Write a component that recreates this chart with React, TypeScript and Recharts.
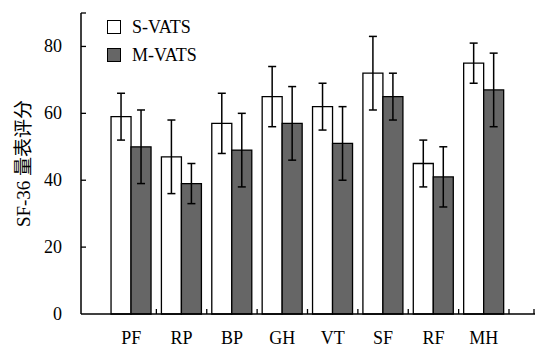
import React from 'react';
import { BarChart, Bar, XAxis, YAxis, ErrorBar, Legend } from 'recharts';

const categories = ['PF', 'RP', 'BP', 'GH', 'VT', 'SF', 'RF', 'MH'];
const sVats = [59, 47, 57, 65, 62, 72, 45, 75];
const sVatsErr = [7, 11, 9, 9, 7, 11, 7, 6];
const mVats = [50, 39, 49, 57, 51, 65, 41, 67];
const mVatsErr = [11, 6, 11, 11, 11, 7, 9, 11];
const yTicks = [0, 20, 40, 60, 80, 90];
const yLabels = ['0', '20', '40', '60', '80', ''];

const data = categories.map((c, i) => ({
  name: c,
  s: sVats[i],
  sErr: sVatsErr[i],
  m: mVats[i],
  mErr: mVatsErr[i],
}));

const FONT = '"Liberation Serif", "Times New Roman", "Noto Sans CJK SC", serif';
const WHITE = '#ffffff';
const DARK = '#666666';

const XTick = (props: any) => {
  const { x, y, payload, index, visibleTicksCount } = props;
  const off = payload && typeof payload.offset === 'number' && payload.offset > 0 ? payload.offset : 25.2;
  const last = index === (visibleTicksCount ?? categories.length) - 1;
  return (
    <g>
      <text x={x} y={y + 30} textAnchor="middle" fontSize={18} fontFamily={FONT} fill="#000">
        {payload.value}
      </text>
      <line x1={x + off} x2={x + off} y1={y} y2={y - 5} stroke="#000" strokeWidth={1.3} />
      {last ? <line x1={x + off + 25} x2={x + off + 25} y1={y} y2={y - 5} stroke="#000" strokeWidth={1.3} /> : null}
    </g>
  );
};

const YTick = (props: any) => {
  const { x, y, payload } = props;
  const idx = yTicks.indexOf(payload.value);
  const label = idx >= 0 ? yLabels[idx] : String(payload.value);
  return (
    <g>
      {payload.value !== 0 ? <line x1={x} x2={x + 5} y1={y} y2={y} stroke="#000" strokeWidth={1.3} /> : null}
      <text x={x - 19} y={y} dy={6} textAnchor="end" fontSize={18} fontFamily={FONT} fill="#000">
        {label}
      </text>
    </g>
  );
};

const LegendContent = () => {
  const items = [
    { label: 'S-VATS', color: WHITE },
    { label: 'M-VATS', color: DARK },
  ];
  return (
    <div style={{ fontFamily: FONT, fontSize: 18, color: '#000' }}>
      {items.map((it) => (
        <div key={it.label} style={{ display: 'flex', alignItems: 'center', height: 28 }}>
          <div
            style={{
              width: 12,
              height: 12,
              background: it.color,
              border: '1px solid #000',
              marginRight: 11,
            }}
          />
          <span style={{ lineHeight: '28px' }}>{it.label}</span>
        </div>
      ))}
    </div>
  );
};

export default function App() {
  return (
    <div style={{ position: 'absolute', left: 0, top: 0, background: '#fff' }}>
      <BarChart
        width={536}
        height={349}
        data={data}
        margin={{ top: 13, right: 1, bottom: 0, left: 0 }}
        barCategoryGap="10%"
        barGap={0}
      >
        <XAxis
          dataKey="name"
          height={35}
          padding={{ left: 25, right: 26 }}
          tickLine={false}
          tickSize={0}
          tickMargin={0}
          axisLine={{ stroke: '#000', strokeWidth: 1.5 }}
          tick={<XTick />}
          interval={0}
        />
        <YAxis
          width={81}
          domain={[0, 90]}
          ticks={yTicks}
          tickLine={false}
          tickSize={0}
          tickMargin={0}
          axisLine={{ stroke: '#000', strokeWidth: 1.5 }}
          tick={<YTick />}
          label={{
            value: 'SF-36 量表评分',
            angle: -90,
            position: 'insideLeft',
            offset: 23,
            fill: '#000',
            style: { textAnchor: 'middle', fontSize: 19, fontFamily: FONT, fill: '#000' },
          }}
        />
        <Legend
          layout="vertical"
          verticalAlign="middle"
          align="center"
          content={<LegendContent />}
          wrapperStyle={{ left: 107, top: 13, width: 120 }}
        />
        <Bar dataKey="s" name="S-VATS" fill={WHITE} stroke="#000" strokeWidth={1.3} isAnimationActive={false}>
          <ErrorBar dataKey="sErr" width={4} stroke="#000" strokeWidth={1.5} isAnimationActive={false} />
        </Bar>
        <Bar dataKey="m" name="M-VATS" fill={DARK} stroke="#000" strokeWidth={1.3} isAnimationActive={false}>
          <ErrorBar dataKey="mErr" width={4} stroke="#000" strokeWidth={1.5} isAnimationActive={false} />
        </Bar>
      </BarChart>
    </div>
  );
}
